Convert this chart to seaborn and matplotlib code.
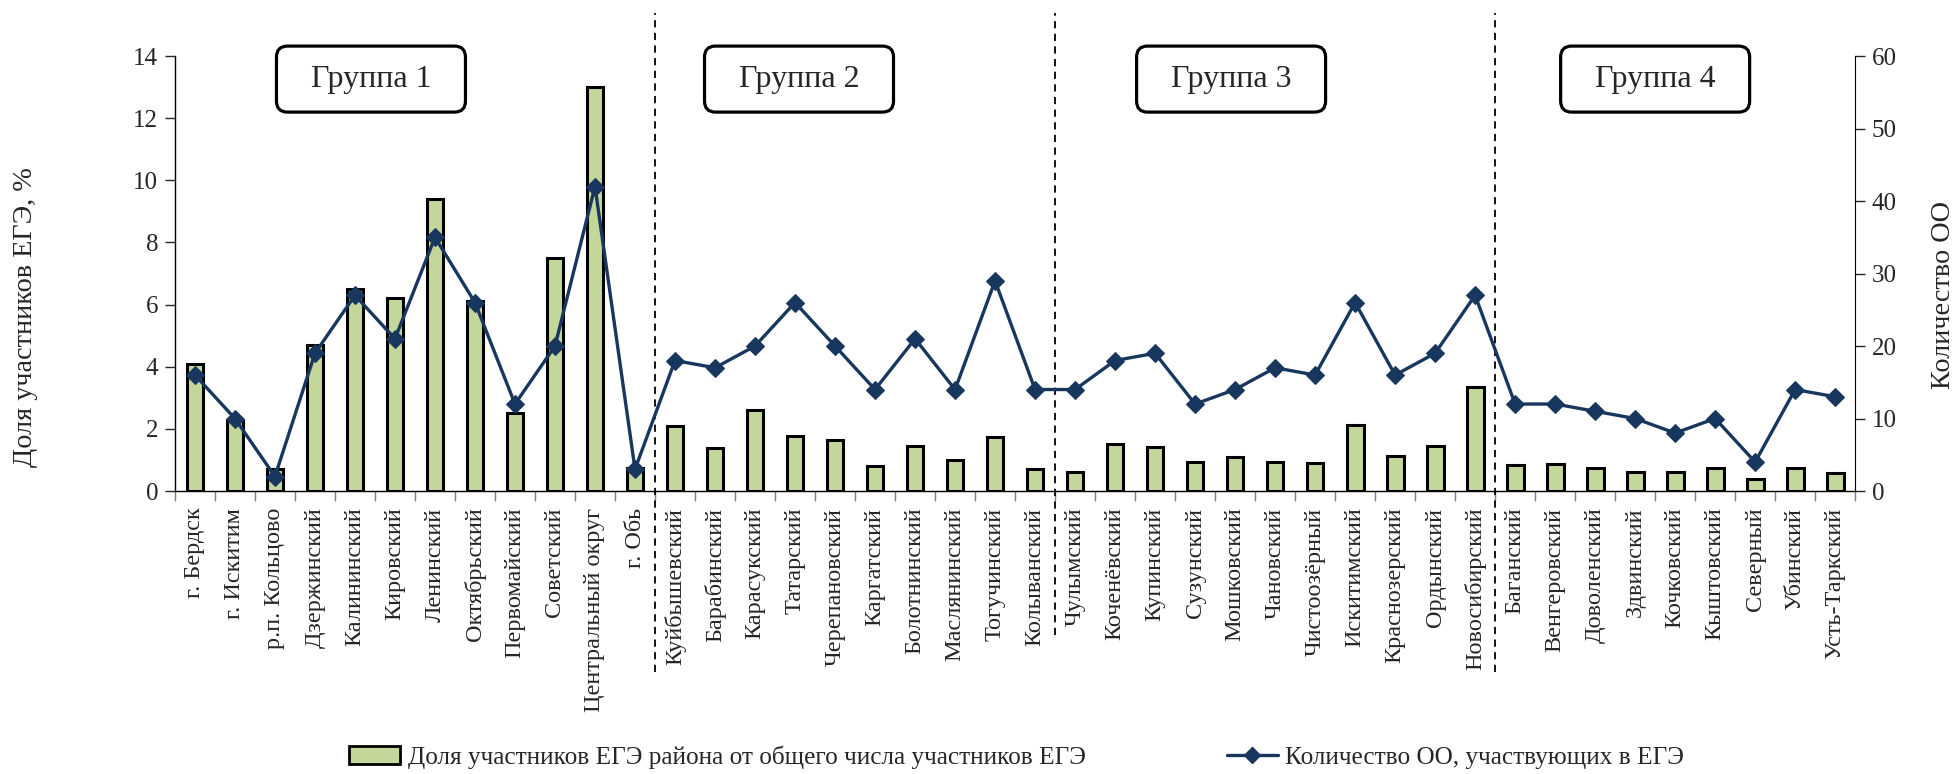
import numpy as np
import pandas as pd
import matplotlib
matplotlib.use("Agg")
import matplotlib.pyplot as plt
from matplotlib.patches import Patch, FancyBboxPatch
from matplotlib.lines import Line2D
from matplotlib.transforms import IdentityTransform
import seaborn as sns

districts = ["г. Бердск", "г. Искитим", "р.п. Кольцово", "Дзержинский", "Калининский",
             "Кировский", "Ленинский", "Октябрьский", "Первомайский", "Советский",
             "Центральный округ", "г. Обь",
             "Куйбышевский", "Барабинский", "Карасукский", "Татарский", "Черепановский",
             "Каргатский", "Болотнинский", "Маслянинский", "Тогучинский", "Колыванский",
             "Чулымский", "Коченёвский", "Купинский", "Сузунский", "Мошковский", "Чановский",
             "Чистоозёрный", "Искитимский", "Краснозерский", "Ордынский", "Новосибирский",
             "Баганский", "Венгеровский", "Доволенский", "Здвинский", "Кочковский",
             "Кыштовский", "Северный", "Убинский", "Усть-Таркский"]

share_pct = [4.1, 2.3, 0.7, 4.7, 6.5, 6.2, 9.4, 6.1, 2.5, 7.5, 13.0, 0.75,
             2.1, 1.4, 2.62, 1.78, 1.65, 0.79, 1.45, 0.99, 1.74, 0.70,
             0.62, 1.51, 1.42, 0.95, 1.10, 0.95, 0.89, 2.13, 1.13, 1.45, 3.36,
             0.83, 0.86, 0.73, 0.62, 0.62, 0.75, 0.40, 0.73, 0.59]

school_count = [16, 10, 2, 19, 27, 21, 35, 26, 12, 20, 42, 3,
                18, 17, 20, 26, 20, 14, 21, 14, 29, 14,
                14, 18, 19, 12, 14, 17, 16, 26, 16, 19, 27,
                12, 12, 11, 10, 8, 10, 4, 14, 13]

group_labels = ["Группа 1", "Группа 2", "Группа 3", "Группа 4"]
group_sizes = [12, 10, 11, 9]
group_centers = [4.4, 15.1, 25.9, 36.5]

bar_label = "Доля участников ЕГЭ района от общего числа участников ЕГЭ"
line_label = "Количество ОО, участвующих в ЕГЭ"

bar_color = "#C4D79B"
line_color = "#17375E"

sns.set_style("white")
plt.rcParams["font.family"] = ["Liberation Serif", "DejaVu Serif"]

df = pd.DataFrame({"district": districts, "share": share_pct, "count": school_count})
n = len(districts)

fig = plt.figure(figsize=(19.59, 7.74), dpi=100)
ax = fig.add_axes([0.0893, 0.3656, 0.947 - 0.0893, 0.9276 - 0.3656])

sns.barplot(data=df, x="district", y="share", ax=ax, color=bar_color,
            edgecolor="black", linewidth=2.2, width=0.42, saturation=1)
ax.set_xlim(-0.5, n - 0.5)
ax.set_ylim(0, 14)
ax.set_yticks(range(0, 15, 2))
ax.set_xlabel("")
ax.set_ylabel("Доля участников ЕГЭ, %", fontsize=20.3)
ax.yaxis.set_label_coords(-0.0815, 0.40)
ax.tick_params(axis="y", labelsize=18, direction="out", length=7, width=1, left=True, pad=5)
ax.set_xticks(range(n))
ax.set_xticklabels(districts, rotation=90, fontsize=17.5)
ax.tick_params(axis="x", which="major", length=0, pad=12)
ax.set_xticks(np.arange(-0.5, n, 1.0), minor=True)
ax.tick_params(axis="x", which="minor", length=7, width=1, direction="out", bottom=True, color="#808080")
for s in ["left", "bottom"]:
    ax.spines[s].set_color("black")
    ax.spines[s].set_linewidth(1)
ax.spines["top"].set_visible(False)
ax.spines["right"].set_visible(False)

ax2 = ax.twinx()
sns.lineplot(x=np.arange(n), y=school_count, ax=ax2, color=line_color, linewidth=2.4,
             marker="D", markersize=9, markeredgecolor=line_color, markerfacecolor=line_color)
ax2.set_ylim(0, 60)
ax2.set_yticks(range(0, 61, 10))
ax2.set_ylabel("Количество ОО", fontsize=20.3)
ax2.yaxis.set_label_coords(1.045, 0.45)
ax2.tick_params(axis="y", labelsize=18, direction="out", length=7, width=1, right=True, pad=5)
ax2.spines["top"].set_visible(False)
ax2.spines["left"].set_visible(False)
ax2.spines["bottom"].set_visible(False)
ax2.spines["right"].set_color("black")
ax2.set_xlim(-0.5, n - 0.5)

# group separators
bounds = np.cumsum(group_sizes)[:-1] - 0.5
ends = [-0.415, -0.33, -0.415]
for b, e in zip(bounds, ends):
    ax.axvline(b, ymin=e, ymax=1.10, color="black", linestyle=(0, (4, 3)),
               linewidth=1.3, clip_on=False, zorder=5)

# group boxes
box_w, box_h = 189, 66
xform = ax.get_xaxis_transform()
for lab, c in zip(group_labels, group_centers):
    cx, cy = xform.transform((c, 0.947))
    box = FancyBboxPatch((cx - box_w / 2, cy - box_h / 2), box_w, box_h,
                         boxstyle="round,pad=0,rounding_size=11",
                         facecolor="white", edgecolor="black", linewidth=2.3,
                         transform=IdentityTransform(), zorder=6)
    fig.add_artist(box)
    fig.text(cx, cy, lab, transform=IdentityTransform(), ha="center", va="center",
             fontsize=23, zorder=7)

handles = [Patch(facecolor=bar_color, edgecolor="black", linewidth=2),
           Line2D([0], [0], color=line_color, linewidth=2.4, marker="D",
                  markersize=8, markerfacecolor=line_color)]
fig.legend(handles, [bar_label, line_label], loc="center", bbox_to_anchor=(0.519, 0.022),
           ncol=2, frameon=False, fontsize=18.2, columnspacing=5.6, handlelength=2.0,
           handletextpad=0.3)

fig.savefig("out.png", dpi=100)
